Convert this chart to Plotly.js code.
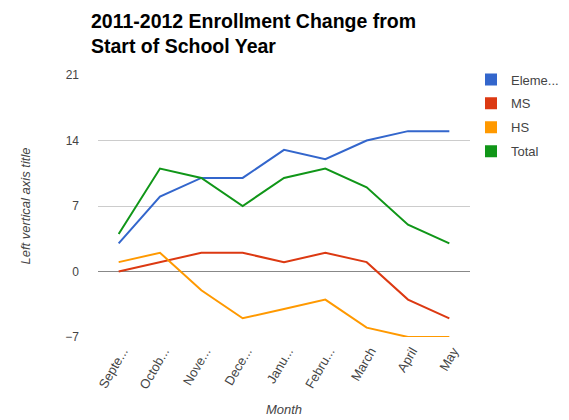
<!DOCTYPE html>
<html><head><meta charset="utf-8">
<script src="https://cdn.plot.ly/plotly-3.0.1.min.js"></script>
<style>html,body{margin:0;padding:0;background:#fff;overflow:hidden}#w{width:569px;height:420px;overflow:hidden}#c{width:600px;height:420px}</style>
</head><body><div id="w"><div id="c"></div></div>
<script>
const months = ["Septe...","Octob...","Nove...","Dece...","Janu...","Febru...","March","April","May"];
const elementary = [3, 8, 10, 10, 13, 12, 14, 15, 15];
const ms = [0, 1, 2, 2, 1, 2, 1, -3, -5];
const hs = [1, 2, -2, -5, -4, -3, -6, -7, -7];
const total = [4, 11, 10, 7, 10, 11, 9, 5, 3];
const names = ["Eleme...","MS","HS","Total"];
const colors = ["#3366cc","#dc3912","#ff9900","#109618"];
const series = [elementary, ms, hs, total];
const chartTitle = '<b>2011-2012 Enrollment Change from<br>Start of School Year</b>';

const data = [];
series.forEach((s,i)=>{
  data.push({x: months, y: s, type:'scatter', mode:'lines', name:names[i],
    line:{color:colors[i], width:2}, showlegend:false, hoverinfo:'skip'});
});
series.forEach((s,i)=>{
  data.push({x:[null], y:[null], type:'scatter', mode:'markers', name:names[i],
    legendgroup:'g'+i, marker:{symbol:'square', size:12, color:colors[i]}, showlegend:true});
});

const layout = {
  width:600, height:420,
  margin:{l:98, r:130, t:75, b:83},
  paper_bgcolor:'#fff', plot_bgcolor:'#fff',
  font:{family:'Liberation Sans, Arial, sans-serif', color:'#444', size:12},
  annotations:[{text:chartTitle, xref:'paper', yref:'paper', x:(89-98)/372, xanchor:'left',
    y:(337-8)/262, yanchor:'top', align:'left', showarrow:false,
    font:{size:19.5, color:'#000', family:'Liberation Sans, Arial, sans-serif'}}],
  xaxis:{type:'category', range:[-0.5,8.5], showgrid:false, zeroline:false,
    showline:false, ticks:'', tickangle:-60, tickfont:{size:13, color:'#444'},
    ticklabelshift:4, ticklabelstandoff:3,
    title:{text:'<i>Month</i>', font:{size:13, color:'#444'}, standoff:14}},
  yaxis:{range:[-7,21], tickvals:[-7,0,7,14,21], showgrid:true, gridcolor:'#cccccc', gridwidth:1,
    zeroline:true, zerolinecolor:'#888', zerolinewidth:1.5, showline:false, ticks:'',
    tickfont:{size:12, color:'#444'}, ticklabelstandoff:18,
    title:{text:'<i>Left vertical axis title</i>', font:{size:13, color:'#444'}, standoff:31}},
  legend:{x:(471-98)/372, xanchor:'left', y:1.04, yanchor:'top', font:{size:13, color:'#444'},
    traceorder:'grouped', tracegroupgap:4, bgcolor:'rgba(0,0,0,0)'},
  showlegend:true
};
Plotly.newPlot('c', data, layout, {displayModeBar:false, staticPlot:true});
</script></body></html>
